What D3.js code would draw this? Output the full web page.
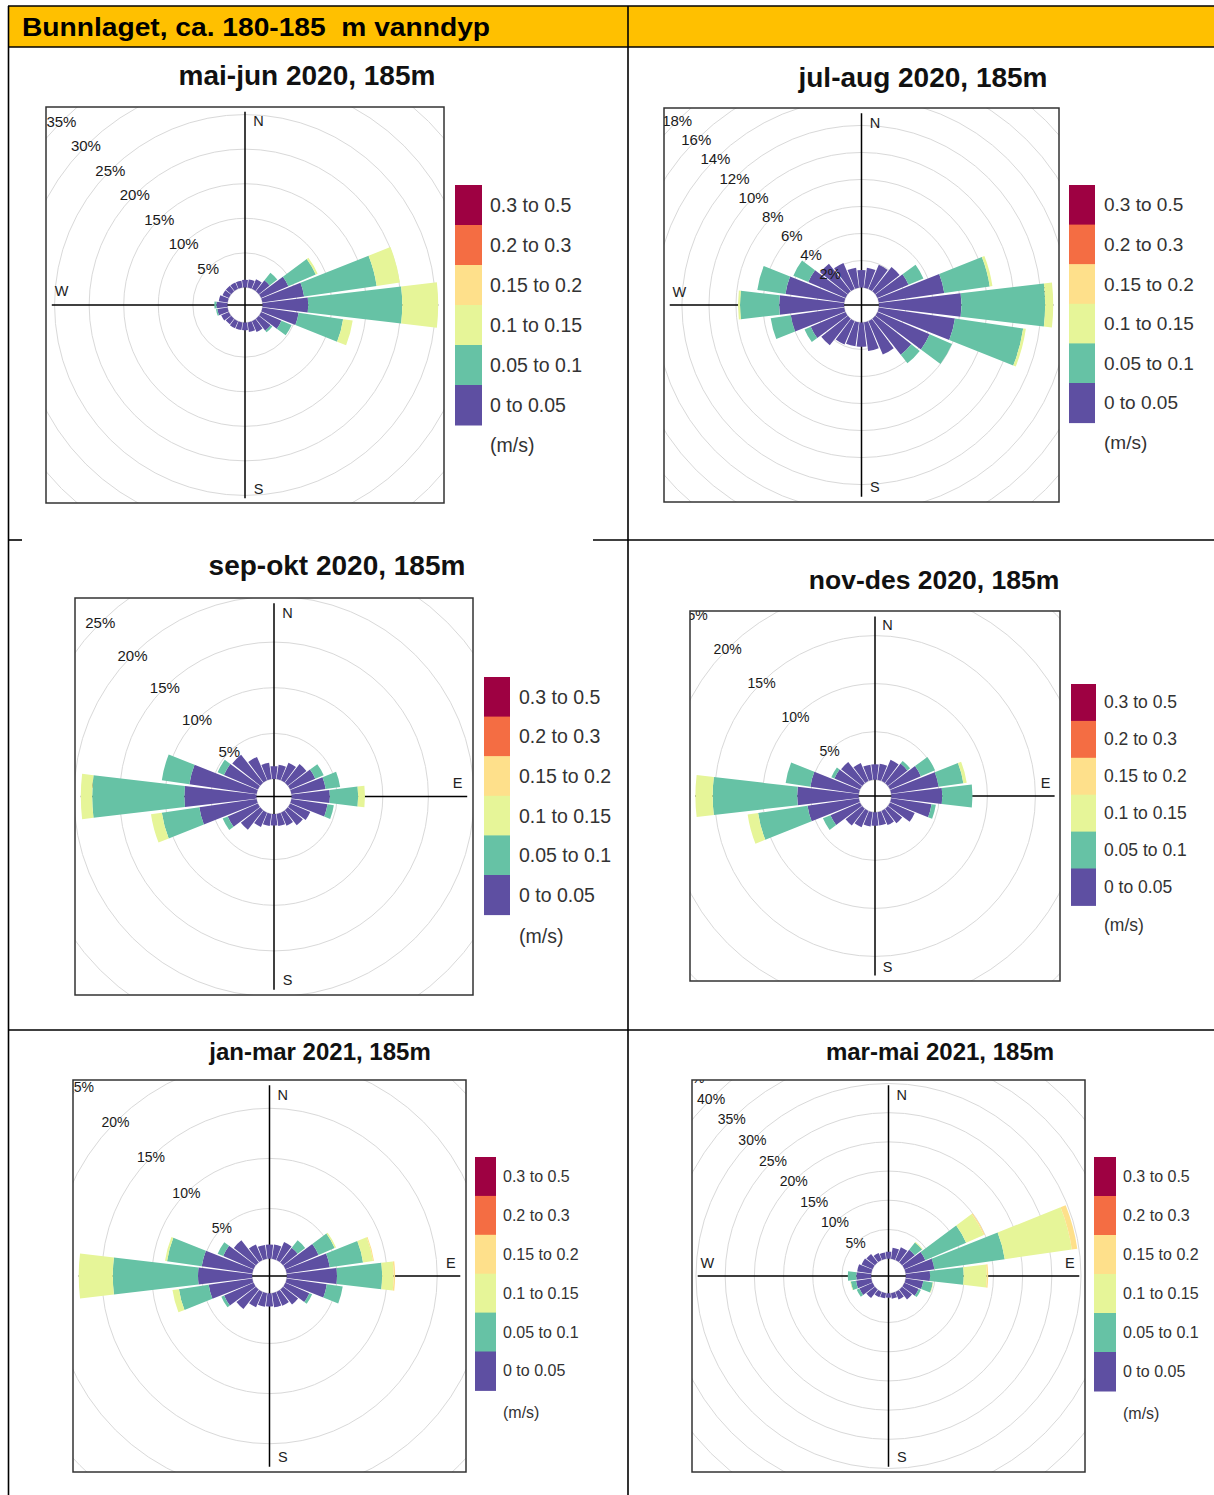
<!DOCTYPE html>
<html>
<head>
<meta charset="utf-8">
<script src="https://cdn.jsdelivr.net/npm/d3@7"></script>
<style>
  body { margin: 0; background: #ffffff; }
  svg text { font-family: "Liberation Sans", Arial, Helvetica, sans-serif; }
</style>
</head>
<body>
<svg id="page" width="1214" height="1495"></svg>
<script>
// ---------------------------------------------------------------
// Current roses, bottom layer (~180-185 m), two-month periods.
// Frequencies are percent of time per 15° direction sector,
// split by current-speed class (m/s).
// ---------------------------------------------------------------
const headerText = "Bunnlaget, ca. 180-185  m vanndyp";

const speedBins = ["0 to 0.05", "0.05 to 0.1", "0.1 to 0.15", "0.15 to 0.2", "0.2 to 0.3", "0.3 to 0.5"];
const binColors = ["#5E4FA2", "#66C2A5", "#E6F598", "#FEE08B", "#F46D43", "#9E0142"];
const speedUnit = "(m/s)";

// sector centres, degrees clockwise from north
const directions = d3.range(0, 360, 15);

const panelTitles = [
  "mai-jun 2020, 185m", "jul-aug 2020, 185m",
  "sep-okt 2020, 185m", "nov-des 2020, 185m",
  "jan-mar 2021, 185m", "mar-mai 2021, 185m"
];

// spacing of the percentage rings per panel
const ringSteps = [5, 2, 5, 5, 5, 5];

// each row: one direction sector (0, 15, ... 345), values per speed class in %
const maiJun2020 = [
  [1.1], [1.2], [1.5], [2.0, 1.4], [4.3, 4.3, 0.3], [6.1, 10.6, 3.4],
  [6.6, 13.6, 5.2], [5.3, 6.5, 1.4], [3.2, 1.6], [2.2, 0.3], [1.7], [1.4],
  [1.1], [1.1], [1.1], [1.0], [1.2], [1.5, 0.2],
  [1.6, 0.3], [1.3], [1.0], [1.0], [1.0], [1.0]
];

const julAug2020 = [
  [1.3], [1.5], [1.95], [2.3], [2.5, 1.2], [4.9, 3.4, 0.2],
  [6.1, 6.2, 0.6], [5.7, 5.1, 0.2], [4.2, 1.8], [3.4, 0.8], [2.7], [2.15],
  [1.8], [1.8], [1.9], [2.5], [2.8, 0.5], [4.0, 1.5],
  [4.8, 2.9, 0.15], [4.4, 2.1], [3.0, 1.2], [2.6], [2.1], [1.5]
];

const sepOkt2020 = [
  [1.4], [1.6], [2.1], [2.6], [3.0, 1.0], [3.8, 1.6],
  [4.2, 3.1, 0.75], [4.0, 0.7], [2.4], [2.1], [1.55], [1.35],
  [1.25], [1.35], [1.7], [2.7], [3.6, 0.6], [6.35, 4.15, 1.2],
  [7.9, 10.1, 1.25], [7.45, 3.05], [4.05, 0.75], [3.9], [2.8], [1.8]
];

const novDes2020 = [
  [1.6], [1.7], [2.4], [2.6, 0.35], [3.5, 1.6], [5.0, 2.6, 0.35],
  [5.3, 3.15], [4.25, 0.45], [2.8], [1.9], [1.6], [1.4],
  [1.4], [1.5], [1.85], [2.2], [3.35, 0.85], [5.4, 5.2, 1.1],
  [6.4, 8.8, 1.8], [5.1, 2.6], [2.9, 0.35], [2.8], [2.05], [1.6]
];

const janMar2021 = [
  [1.4], [1.45], [1.95], [1.85, 0.95], [3.6, 1.75, 0.15], [4.35, 3.35, 1.0, 0.1],
  [5.0, 4.5, 1.15, 0.15], [4.05, 1.6], [2.6, 0.3], [1.9], [1.5], [1.43],
  [1.3], [1.37], [1.67], [2.47], [3.2, 0.3], [4.4, 3.0, 0.65],
  [5.4, 8.5, 3.4], [5.1, 3.5, 0.2], [3.3, 0.6], [2.8], [1.7], [1.4]
];

const marMai2021 = [
  [1.2], [1.9], [2.4], [2.75, 1.6, 0.15], [3.9, 7.6, 3.3, 0.2], [4.98, 12.17, 11.6, 0.95],
  [4.15, 5.75, 3.95, 0.25], [3.05, 1.65, 0.1], [2.65, 0.4], [2.15], [1.4], [0.95],
  [0.75], [0.9], [1.0], [1.85], [2.45, 0.5], [2.65, 0.9, 0.1],
  [2.55, 1.45], [2.45], [2.05], [1.85], [1.3], [1.1]
];

const panelData = [maiJun2020, julAug2020, sepOkt2020, novDes2020, janMar2021, marMai2021];

// ---------------------------------------------------------------
// Page geometry (table cells, plot frames, legends)
// ---------------------------------------------------------------
const layouts = [
  { box: [46, 107, 444, 503], title: [307, 75, 28], ring: 15,
    legend: { x: 455, y: 185, w: 27, h: 40, tx: 490, fs: 19.5, unitY: 445 } },
  { box: [664, 108, 1059, 502], title: [923, 77, 28], ring: 15,
    legend: { x: 1069, y: 185, w: 26, h: 39.6, tx: 1104, fs: 19, unitY: 442 } },
  { box: [75, 598, 473, 995], title: [337, 565, 28], ring: 15,
    legend: { x: 484, y: 677, w: 26, h: 39.6, tx: 519, fs: 19.5, unitY: 936 } },
  { box: [690, 611, 1060, 981], title: [934, 580, 26.5], ring: 14,
    legend: { x: 1071, y: 684, w: 25, h: 36.9, tx: 1104, fs: 17.5, unitY: 925 } },
  { box: [73, 1080, 466, 1472], title: [320, 1051, 24], ring: 14,
    legend: { x: 475, y: 1157, w: 21, h: 38.9, tx: 503, fs: 16, unitY: 1412 } },
  { box: [692, 1080, 1085, 1472], title: [940, 1051, 24], ring: 14,
    legend: { x: 1094, y: 1157, w: 22, h: 39, tx: 1123, fs: 16, unitY: 1413 } }
];

const svg = d3.select("#page");

// ---------------- table ----------------
svg.append("rect")
  .attr("x", 8).attr("y", 6).attr("width", 1206).attr("height", 41)
  .attr("fill", "#FFC000");

svg.append("text")
  .attr("x", 22).attr("y", 36)
  .attr("font-size", 25)
  .attr("font-weight", "bold")
  .attr("textLength", 468)
  .attr("lengthAdjust", "spacingAndGlyphs")
  .style("white-space", "pre")
  .attr("fill", "#000")
  .text(headerText);

const tableLines = [
  [8, 6, 1214, 6], [8, 47, 1214, 47],
  [8.5, 6, 8.5, 1495], [628, 6, 628, 1495],
  [8, 540, 22, 540], [593, 540, 1214, 540],
  [8, 1030, 1214, 1030]
];
svg.append("g").selectAll("line").data(tableLines).join("line")
  .attr("x1", d => d[0]).attr("y1", d => d[1])
  .attr("x2", d => d[2]).attr("y2", d => d[3])
  .attr("stroke", "#000").attr("stroke-width", 1.6);

// ---------------- wind/current rose ----------------
const deg = Math.PI / 180;
const sectorWidth = 15;
const petalFraction = 0.9;

function drawRose(idx) {
  const lay = layouts[idx];
  const freq = panelData[idx];
  const step = ringSteps[idx];
  const [x0, y0, x1, y1] = lay.box;
  const cx = (x0 + x1) / 2, cy = (y0 + y1) / 2;
  const half = (x1 - x0) / 2;

  const totals = freq.map(d => d3.sum(d));
  const maxFreq = d3.max(totals);
  const offset = maxFreq * 0.1;             // hollow centre
  const upper = maxFreq + offset;
  const r = d3.scaleLinear().domain([0, upper * 1.03]).range([0, half]);

  const g = svg.append("g");
  const clipId = "clip" + idx;
  g.append("clipPath").attr("id", clipId)
    .append("rect").attr("x", x0).attr("y", y0).attr("width", x1 - x0).attr("height", y1 - y0);

  const plot = g.append("g").attr("clip-path", `url(#${clipId})`)
    .append("g").attr("transform", `translate(${cx},${cy})`);

  // percentage rings
  const ringVals = d3.range(0, 200, step).filter(v => r(offset + v) < half * 1.45);
  plot.append("g").selectAll("circle").data(ringVals).join("circle")
    .attr("r", v => r(offset + v))
    .attr("fill", "none")
    .attr("stroke", "#d9d9d9")
    .attr("stroke-width", 1);

  // compass axes
  const U = r(upper);
  plot.append("g").selectAll("line").data([[-U, 0, U, 0], [0, -U, 0, U]]).join("line")
    .attr("x1", d => d[0]).attr("y1", d => d[1])
    .attr("x2", d => d[2]).attr("y2", d => d[3])
    .attr("stroke", "#000").attr("stroke-width", 1.5);

  const compass = [
    ["N", 0.07 * U, -0.95 * U], ["S", 0.07 * U, 0.95 * U],
    ["E", 0.95 * U, -0.07 * U], ["W", -0.95 * U, -0.07 * U]
  ];
  plot.append("g").selectAll("text").data(compass).join("text")
    .attr("x", d => d[1]).attr("y", d => d[2])
    .attr("text-anchor", "middle")
    .attr("dominant-baseline", "central")
    .attr("font-size", 14.5)
    .attr("fill", "#222")
    .text(d => d[0]);

  // petals: stacked speed classes per direction sector
  const segments = [];
  directions.forEach((dir, i) => {
    let cum = 0;
    freq[i].forEach((v, b) => {
      if (v > 0) segments.push({ dir, b, lo: cum, hi: cum + v });
      cum += v;
    });
  });
  const arc = d3.arc();
  plot.append("g").selectAll("path").data(segments).join("path")
    .attr("d", s => arc({
      innerRadius: r(offset + s.lo),
      outerRadius: r(offset + s.hi),
      startAngle: (s.dir - petalFraction * sectorWidth / 2) * deg,
      endAngle: (s.dir + petalFraction * sectorWidth / 2) * deg
    }))
    .attr("fill", s => binColors[s.b]);

  // ring labels along the NW diagonal
  plot.append("g").selectAll("text").data(ringVals.slice(1)).join("text")
    .attr("x", v => -r(offset + v) * Math.SQRT1_2)
    .attr("y", v => -r(offset + v) * Math.SQRT1_2)
    .attr("text-anchor", "middle")
    .attr("dominant-baseline", "central")
    .attr("font-size", lay.ring)
    .attr("fill", "#1a1a1a")
    .text(v => v + "%");

  // frame
  g.append("rect")
    .attr("x", x0).attr("y", y0).attr("width", x1 - x0).attr("height", y1 - y0)
    .attr("fill", "none").attr("stroke", "#333").attr("stroke-width", 1.5);

  // title
  g.append("text")
    .attr("x", lay.title[0]).attr("y", lay.title[1])
    .attr("text-anchor", "middle")
    .attr("dominant-baseline", "central")
    .attr("font-size", lay.title[2])
    .attr("font-weight", "bold")
    .attr("fill", "#111")
    .text(panelTitles[idx]);

  // legend (highest class on top)
  const L = lay.legend;
  const order = d3.range(speedBins.length).reverse();
  const leg = g.append("g");
  leg.selectAll("rect").data(order).join("rect")
    .attr("x", L.x)
    .attr("y", (b, i) => L.y + i * L.h)
    .attr("width", L.w)
    .attr("height", L.h + 0.5)
    .attr("fill", b => binColors[b]);
  leg.selectAll("text.lab").data(order).join("text")
    .attr("class", "lab")
    .attr("x", L.tx)
    .attr("y", (b, i) => L.y + (i + 0.5) * L.h)
    .attr("dominant-baseline", "central")
    .attr("font-size", L.fs)
    .attr("fill", "#333")
    .text(b => speedBins[b]);
  leg.append("text")
    .attr("x", L.tx).attr("y", L.unitY)
    .attr("dominant-baseline", "central")
    .attr("font-size", L.fs)
    .attr("fill", "#333")
    .text(speedUnit);
}

d3.range(panelData.length).forEach(drawRose);
</script>
</body>
</html>
